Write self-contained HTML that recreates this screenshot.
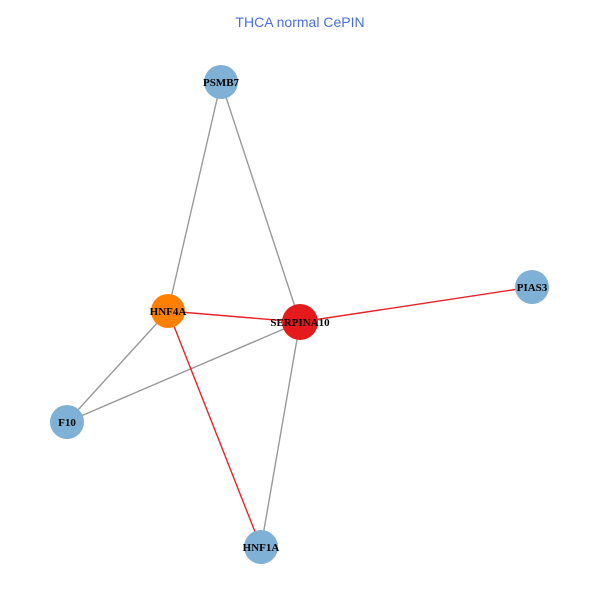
<!DOCTYPE html>
<html><head><style>body{margin:0;background:#fff}</style></head><body>
<svg width="600" height="600" xmlns="http://www.w3.org/2000/svg">
<rect width="600" height="600" fill="#fff"/>
<text x="300" y="27" text-anchor="middle" font-family="Liberation Sans, sans-serif" font-size="14" fill="#4a6fe3">THCA normal CePIN</text>
<g stroke-width="1.4">
<line x1="221" y1="82" x2="168" y2="311" stroke="#999"/>
<line x1="221" y1="82" x2="300" y2="322" stroke="#999"/>
<line x1="168" y1="311" x2="67" y2="422" stroke="#999"/>
<line x1="300" y1="322" x2="67" y2="422" stroke="#999"/>
<line x1="300" y1="322" x2="261" y2="547" stroke="#999"/>
<line x1="168" y1="311" x2="300" y2="322" stroke="#e8232a"/>
<line x1="300" y1="322" x2="532" y2="287" stroke="#e8232a"/>
<line x1="168" y1="311" x2="261" y2="547" stroke="#e8232a"/>
</g>
<g>
<circle cx="221" cy="82" r="17" fill="#7fb0d5"/>
<circle cx="168" cy="311" r="17" fill="#ff8000"/>
<circle cx="300" cy="322" r="18" fill="#e41a1c"/>
<circle cx="532" cy="287" r="17" fill="#7fb0d5"/>
<circle cx="67" cy="422" r="17" fill="#7fb0d5"/>
<circle cx="261" cy="547" r="17" fill="#7fb0d5"/>
</g>
<g font-family="Liberation Serif, serif" font-weight="bold" font-size="11" text-anchor="middle" fill="#000">
<text x="221" y="86">PSMB7</text>
<text x="168" y="315">HNF4A</text>
<text x="300" y="326">SERPINA10</text>
<text x="532" y="291">PIAS3</text>
<text x="67" y="426">F10</text>
<text x="261" y="551">HNF1A</text>
</g>
</svg>
</body></html>
